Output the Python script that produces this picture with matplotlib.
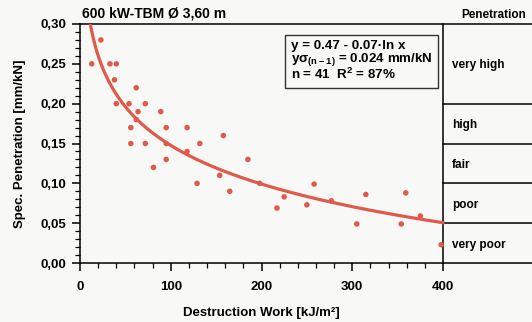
import numpy as np
import matplotlib.pyplot as plt
from matplotlib.ticker import FixedLocator, FuncFormatter

### data
work_x = [13, 23, 33, 40, 38, 62, 40, 54, 72, 64, 89, 56, 95, 118, 56, 72, 95,
          132, 158, 81, 95, 129, 154, 165, 185, 198, 118, 62, 217, 225, 250,
          258, 277, 305, 315, 354, 359, 375, 398]
pen_y = [0.25, 0.28, 0.25, 0.25, 0.23, 0.22, 0.20, 0.20, 0.20, 0.19, 0.19, 0.17,
         0.17, 0.17, 0.15, 0.15, 0.15, 0.15, 0.16, 0.12, 0.13, 0.10, 0.11, 0.09,
         0.13, 0.10, 0.14, 0.18, 0.069, 0.083, 0.073, 0.099, 0.078, 0.049,
         0.086, 0.049, 0.088, 0.059, 0.023]

# regression given on the chart: y = a - b*ln x
fit_a = 0.47
fit_b = 0.07

classes = ['very high', 'high', 'fair', 'poor', 'very poor']
class_lims = [0.30, 0.20, 0.15, 0.10, 0.05, 0.00]

red = '#e05a4c'
bg = '#f8f8f6'
plt.rcParams['font.family'] = ['Liberation Sans', 'DejaVu Sans']
plt.rcParams['font.weight'] = 'bold'

fig = plt.figure(figsize=(5.32, 3.22), dpi=100, facecolor=bg)
ax = fig.add_axes([80/532, 59/322, 453.75/532, 239/322], facecolor=bg)
ax.set_xlim(0, 500)
ax.set_ylim(0, 0.30)

# fit curve, cut at top of the plot
x0 = np.exp((fit_a - 0.30) / fit_b)
xs = np.linspace(x0, 400, 200)
ax.plot(xs, fit_a - fit_b * np.log(xs), color=red, lw=2.3, zorder=3)
ax.scatter(work_x, pen_y, s=16, color=red, edgecolors='none', zorder=4)

# rating table on the right
ax.plot([400, 400], [0, 0.30], color='k', lw=1.1, clip_on=False)
for lim in class_lims[1:-1]:
    ax.plot([400, 500], [lim, lim], color='k', lw=1.1, clip_on=False)
for i, lab in enumerate(classes):
    ymid = (class_lims[i] + class_lims[i+1]) / 2
    ax.text(410, ymid - 0.002, lab, fontsize=8.5, va='center', ha='left')
ax.text(420, 0.304, 'Penetration', fontsize=8.5, va='bottom', ha='left', clip_on=False)

# spines / ticks
ax.spines['right'].set_visible(False)
for s in ['top', 'left', 'bottom']:
    ax.spines[s].set_linewidth(1.1)
ax.xaxis.set_major_locator(FixedLocator([0, 100, 200, 300, 400]))
ax.xaxis.set_minor_locator(FixedLocator(list(range(0, 401, 20))))
ax.yaxis.set_major_locator(FixedLocator([0, 0.05, 0.10, 0.15, 0.20, 0.25, 0.30]))
ax.yaxis.set_minor_locator(FixedLocator(list(np.arange(0, 0.301, 0.01))))
ax.yaxis.set_major_formatter(FuncFormatter(lambda v, p: f'{v:.2f}'.replace('.', ',')))
ax.tick_params(which='major', length=6, width=1.1, labelsize=9.5, pad=4)
ax.tick_params(which='minor', length=3.5, width=0.9)
ax.tick_params(axis='x', pad=7)

ax.set_xlabel('Destruction Work [kJ/m²]', fontsize=9.5, fontweight='bold')
ax.xaxis.set_label_coords(181/453.75, -0.185)
ax.set_ylabel('Spec. Penetration [mm/kN]', fontsize=9.5, fontweight='bold')
ax.yaxis.set_label_coords(-0.118, 0.5)
fig.text(82/532, 1 - 13/322, '600 kW-TBM Ø 3,60 m', fontsize=10, va='center', ha='left')

# regression info box
box_txt = ('y = 0.47 - 0.07·ln x\n'
           r'y$\mathregular{\sigma_{(n-1)}}$ = 0.024 mm/kN' + '\n'
           'n = 41  R$^\\mathregular{2}$ = 87%')
ax.text(232, 0.2535, box_txt, fontsize=9.6, va='center', ha='left', linespacing=0.92,
        bbox=dict(boxstyle='square,pad=0.4', fc=bg, ec='#333333', lw=1.0))

fig.savefig('out.png', dpi=100, facecolor=bg)
